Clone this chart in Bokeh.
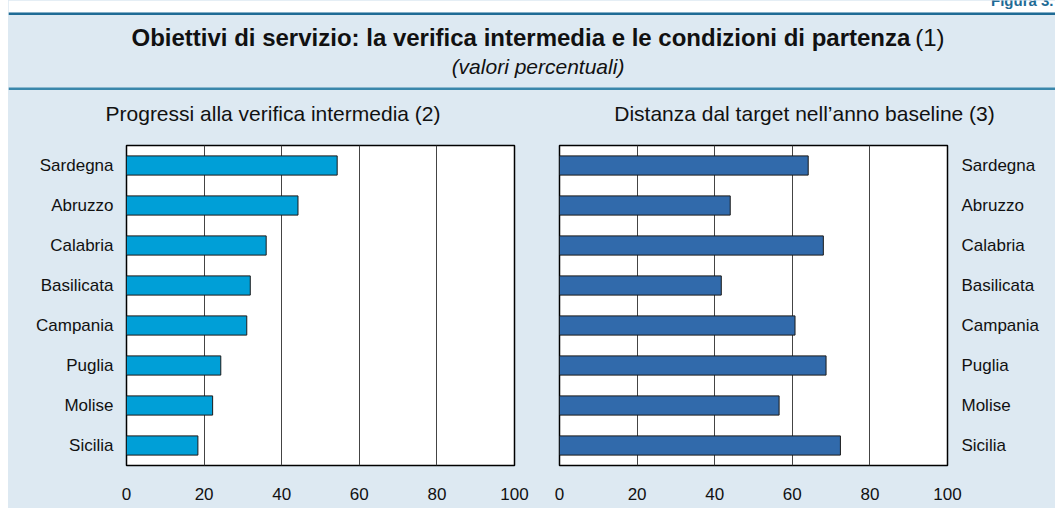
from bokeh.plotting import figure
from bokeh.layouts import column, row, Spacer
from bokeh.models import Range1d, FactorRange
from bokeh.embed import file_html
from bokeh.resources import INLINE
from bokeh.core.properties import value

# ---- data ----
regions = ["Sardegna", "Abruzzo", "Calabria", "Basilicata", "Campania", "Puglia", "Molise", "Sicilia"]
progress = [54.3, 44.2, 36.0, 31.9, 31.0, 24.3, 22.2, 18.4]
distance = [64.1, 44.0, 68.0, 41.7, 60.7, 68.7, 56.6, 72.4]
x_ticks = [0, 20, 40, 60, 80, 100]

title_bold = "Obiettivi di servizio: la verifica intermedia e le condizioni di partenza"
title_note = "(1)"
subtitle = "(valori percentuali)"
left_title = "Progressi alla verifica intermedia (2)"
right_title = "Distanza dal target nell\u2019anno baseline (3)"
fig_label = "Figura 3."

# ---- style ----
BG = "#dde9f2"
FONT = "Liberation Sans"
W = 1047
HEAD_H = 130

head = figure(width=W, height=HEAD_H, x_range=Range1d(0, W), y_range=Range1d(HEAD_H, 0),
              output_backend="svg", toolbar_location=None, min_border=0,
              x_axis_location=None, y_axis_location=None,
              background_fill_color=BG, border_fill_color=BG, outline_line_color=None)
head.grid.visible = False
head.quad(left=0, right=W, top=0, bottom=12, fill_color="white", line_color=None)
head.quad(left=0, right=W, top=12, bottom=14.5, fill_color="#1f6b95", line_color=None)
head.quad(left=0, right=W, top=87, bottom=89.5, fill_color="#3a87ab", line_color=None)

head.text(x=[W - 2], y=[0], text=[fig_label], text_font=value(FONT), text_font_style="bold",
          text_font_size="15px", text_align="right", text_baseline="middle", text_color="#1f6b95")
head.text(x=[123], y=[37], text=[title_bold], text_font=value(FONT), text_font_style="bold",
          text_font_size="24px", text_align="left", text_baseline="middle", text_color="#111111")
head.text(x=[936], y=[37], text=[title_note], text_font=value(FONT), text_font_style="normal",
          text_font_size="24px", text_align="right", text_baseline="middle", text_color="#111111")
head.text(x=[529.5], y=[66], text=[subtitle], text_font=value(FONT), text_font_style="italic",
          text_font_size="21px", text_align="center", text_baseline="middle", text_color="#111111")
head.text(x=[264.5], y=[113], text=[left_title], text_font=value(FONT),
          text_font_size="21px", text_align="center", text_baseline="middle", text_color="#111111")
head.text(x=[796], y=[113], text=[right_title], text_font=value(FONT),
          text_font_size="21px", text_align="center", text_baseline="middle", text_color="#111111")


def panel(vals, color, width, border_left, border_right, axis_loc):
    p = figure(width=width, height=378, x_range=Range1d(0, 100),
               y_range=FactorRange(factors=regions[::-1]),
               output_backend="svg", toolbar_location=None, y_axis_location=axis_loc,
               min_border_left=border_left, min_border_right=border_right,
               min_border_top=15, min_border_bottom=43,
               background_fill_color="white", border_fill_color=BG,
               outline_line_color="black", outline_line_width=1.5)
    p.hbar(y=regions, right=vals, left=0, height=0.48, fill_color=color,
           line_color="#1a1a1a", line_width=1)
    p.xaxis.ticker = x_ticks
    p.xgrid.ticker = x_ticks
    p.xgrid.grid_line_color = "#444444"
    p.xgrid.grid_line_width = 1
    p.ygrid.grid_line_color = None
    for ax in p.axis:
        ax.axis_line_color = None
        ax.major_tick_line_color = None
        ax.minor_tick_line_color = None
        ax.major_tick_out = 0
        ax.major_tick_in = 0
        ax.minor_tick_out = 0
        ax.minor_tick_in = 0
        ax.major_label_text_font = FONT
        ax.major_label_text_font_size = "17px"
        ax.major_label_text_color = "#111111"
    p.xaxis.major_label_standoff = 22
    p.yaxis.major_label_standoff = 13
    return p


left = panel(progress, "#009fd7", 532, 118, 26, "left")
right = panel(distance, "#316aab", 515, 19, 108, "right")
right.yaxis.major_label_standoff = 14

panels = row(left, right, spacing=0, styles={"background-color": BG})
main = column(head, panels, spacing=0, styles={"background-color": BG})
layout = row(Spacer(width=8, height=508), main, spacing=0)

open("out.html", "w").write(file_html(layout, INLINE))
